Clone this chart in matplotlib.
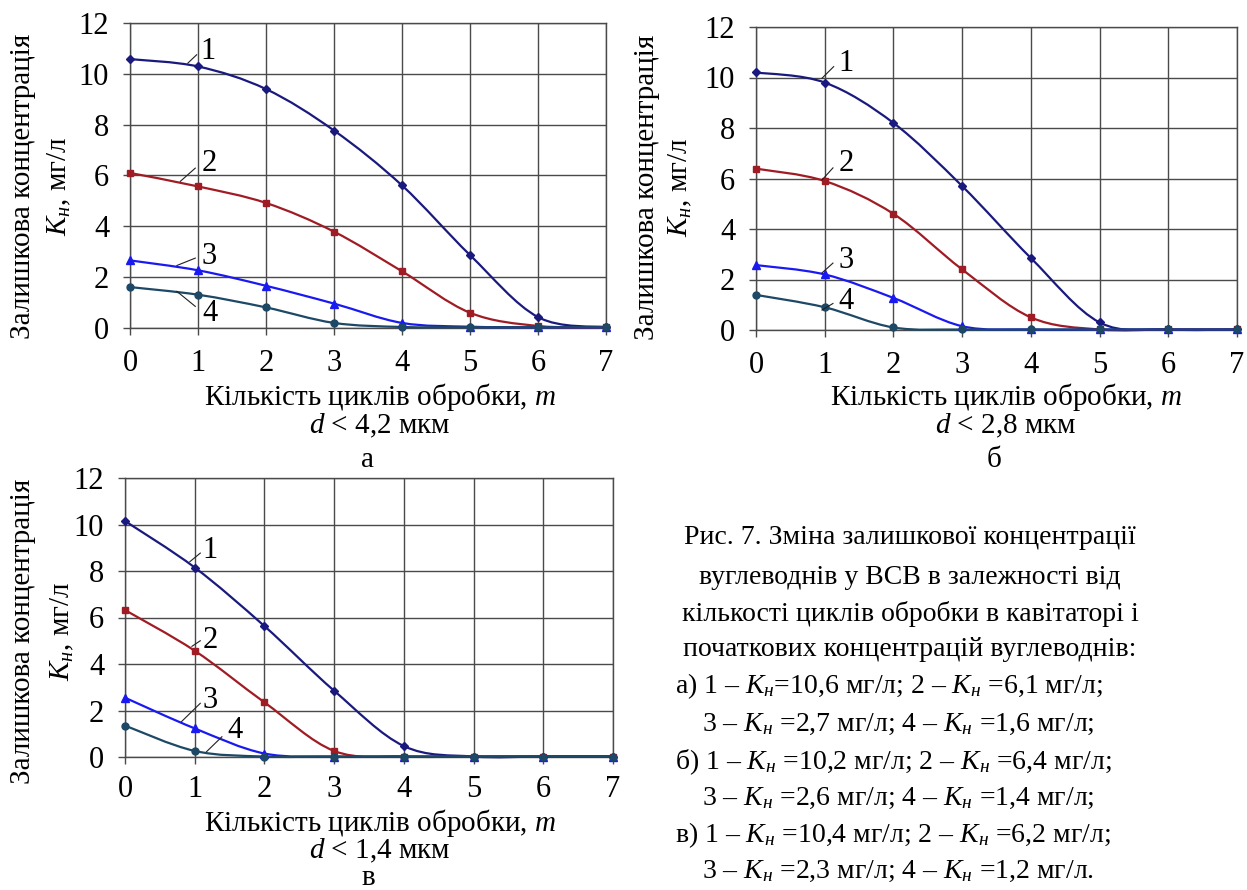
import numpy as np
import matplotlib.pyplot as plt
from matplotlib.path import Path
from matplotlib.patches import PathPatch

plt.rcParams['font.family'] = ['Liberation Serif', 'DejaVu Serif']
plt.rcParams['mathtext.fontset'] = 'custom'
plt.rcParams['mathtext.rm'] = 'Liberation Serif'
plt.rcParams['mathtext.it'] = 'Liberation Serif:italic'

W, H = 1247, 890
FS_TICK = 22
FS = 21
FS_CAP = 20

# кількість циклів обробки
cycles = [0, 1, 2, 3, 4, 5, 6, 7]

# а) d < 4,2 мкм
a_1 = [10.58, 10.29, 9.40, 7.77, 5.61, 2.87, 0.43, 0.03]
a_2 = [6.10, 5.57, 4.92, 3.79, 2.23, 0.60, 0.08, 0.03]
a_3 = [2.66, 2.27, 1.66, 0.96, 0.20, 0.05, 0.03, 0.03]
a_4 = [1.61, 1.31, 0.81, 0.20, 0.04, 0.03, 0.03, 0.03]

# б) d < 2,8 мкм
b_1 = [10.20, 9.80, 8.20, 5.70, 2.85, 0.30, 0.02, 0.02]
b_2 = [6.39, 5.90, 4.60, 2.40, 0.50, 0.02, 0.02, 0.02]
b_3 = [2.57, 2.20, 1.27, 0.15, 0.02, 0.02, 0.02, 0.02]
b_4 = [1.39, 0.90, 0.10, 0.02, 0.02, 0.02, 0.02, 0.02]

# в) d < 1,4 мкм
c_1 = [10.15, 8.15, 5.63, 2.85, 0.47, 0.02, 0.02, 0.02]
c_2 = [6.32, 4.57, 2.35, 0.26, 0.02, 0.02, 0.02, 0.02]
c_3 = [2.55, 1.23, 0.15, 0.02, 0.02, 0.02, 0.02, 0.02]
c_4 = [1.35, 0.26, 0.02, 0.02, 0.02, 0.02, 0.02, 0.02]

colors = ['#1a1a7e', '#a01c24', '#1a1af0', '#1d4866']
markers = [('D', 4.0), ('s', 5.0), ('^', 5.5), ('o', 5.0)]


def px(x, y):
    return x / W, 1 - y / H


def smooth_path(xs, ys):
    # згладжена лінія як в Excel (криві Безьє)
    p = np.column_stack([xs, ys]).astype(float)
    n = len(p)
    verts = [p[0]]
    codes = [Path.MOVETO]
    for i in range(n - 1):
        p0 = p[i - 1] if i > 0 else p[i]
        p3 = p[i + 2] if i + 2 < n else p[i + 1]
        c1 = p[i] + (p[i + 1] - p0) / 6.0
        c2 = p[i + 1] - (p3 - p[i]) / 6.0
        verts += [c1, c2, p[i + 1]]
        codes += [Path.CURVE4] * 3
    return Path(verts, codes)


def draw_panel(box, series, notes, xpad):
    l, r, t, b = box
    ax = plt.gcf().add_axes([l / W, 1 - b / H, (r - l) / W, (b - t) / H])
    ax.set_xlim(0, 7)
    ax.set_ylim(0, 12)
    ax.set_xticks(range(0, 8))
    ax.set_yticks(range(0, 13, 2))
    ax.grid(True, color='#4a4a4a', lw=1.0)
    for s in ax.spines.values():
        s.set_color('#4a4a4a')
        s.set_linewidth(1.0)
    ax.tick_params(length=5, width=1.0, color='#4a4a4a', labelsize=FS_TICK, pad=10)
    ax.tick_params(axis='x', pad=xpad)
    for k, ys in enumerate(series):
        patch = PathPatch(smooth_path(cycles, ys), fill=False,
                          edgecolor=colors[k], lw=1.6, clip_on=False, zorder=3)
        ax.add_patch(patch)
        m, ms = markers[k]
        ax.plot(cycles, ys, ls='none', marker=m, ms=ms, color=colors[k],
                clip_on=False, zorder=4)
    for lab, tx, ty, x0, y0, x1, y1 in notes:
        ax.plot([x0, x1], [y0, y1], color='#202020', lw=0.8, zorder=5)
        ax.text(tx, ty, lab, fontsize=FS_TICK, ha='center', va='center', zorder=5)
    return ax


notes_a = [('1', 1.15, 10.87, 0.85, 10.42, 0.98, 10.75),
           ('2', 1.17, 6.49, 0.74, 5.77, 0.96, 6.29),
           ('3', 1.17, 2.82, 0.69, 2.46, 0.96, 2.75),
           ('4', 1.17, 0.59, 0.69, 1.44, 0.96, 0.85)]
notes_b = [('1', 1.31, 10.56, 0.96, 9.97, 1.13, 10.43),
           ('2', 1.31, 6.60, 0.96, 5.94, 1.12, 6.42),
           ('3', 1.31, 2.77, 0.96, 2.26, 1.12, 2.65),
           ('4', 1.31, 1.12, 0.96, 0.79, 1.12, 1.05)]
notes_c = [('1', 1.22, 8.90, 0.93, 8.40, 1.08, 8.77),
           ('2', 1.22, 5.03, 0.96, 4.76, 1.08, 5.00),
           ('3', 1.22, 2.45, 0.81, 1.52, 1.08, 2.31),
           ('4', 1.58, 1.16, 1.17, 0.23, 1.39, 0.87)]

fig = plt.figure(figsize=(W / 100, H / 100), dpi=100)

draw_panel((130, 606, 23, 328), [a_1, a_2, a_3, a_4], notes_a, 10)
draw_panel((756, 1237, 27, 330), [b_1, b_2, b_3, b_4], notes_b, 10)
draw_panel((125, 613, 478, 757), [c_1, c_2, c_3, c_4], notes_c, 8)

xlab = 'Кількість циклів обробки, $\\mathit{m}$'
ylab1 = 'Залишкова концентрація'
ylab2 = '$\\mathit{K}_{\\mathit{н}}$, мг/л'

# підписи панелей
for cx, y_lab, y_d, d_txt, letter, y_base in [(380, 397, 426, '4,2', 'а', 467),
                                              (1006, 397, 426, '2,8', 'б', 467),
                                              (380, 823, 851, '1,4', 'в', 885)]:
    fig.text(*px(cx, y_lab), xlab, fontsize=FS, ha='center', va='center')
    fig.text(*px(cx, y_d), '$\\mathit{d}$ < ' + d_txt + ' мкм',
             fontsize=FS, ha='center', va='center')
    fig.text(*px(cx - 12, y_base), letter, fontsize=FS, ha='center', va='baseline')

for x1, x2, yc in [(23, 59, 186), (647, 680, 187), (23, 62, 631)]:
    fig.text(*px(x1, yc), ylab1, fontsize=FS, rotation=90, ha='center', va='center')
    fig.text(*px(x2, yc), ylab2, fontsize=FS, rotation=90, ha='center', va='center')

# підпис рисунка
K = '$\\mathit{K}_{\\mathit{н}}$'
caption_c = ['Рис. 7. Зміна залишкової концентрації',
             'вуглеводнів у ВСВ в залежності від',
             'кількості циклів обробки в кавітаторі і',
             'початкових концентрацій вуглеводнів:']
caption_l = ['а) 1 – ' + K + '=10,6 мг/л; 2 – ' + K + ' =6,1 мг/л;',
             '3 – ' + K + ' =2,7 мг/л; 4 – ' + K + ' =1,6 мг/л;',
             'б) 1 – ' + K + ' =10,2 мг/л; 2 – ' + K + ' =6,4 мг/л;',
             '3 – ' + K + ' =2,6 мг/л; 4 – ' + K + ' =1,4 мг/л;',
             'в) 1 – ' + K + ' =10,4 мг/л; 2 – ' + K + ' =6,2 мг/л;',
             '3 – ' + K + ' =2,3 мг/л; 4 – ' + K + ' =1,2 мг/л.']
cap_y = [537, 578, 614, 650, 686, 724, 762, 798, 835, 871]
for i, line in enumerate(caption_c):
    fig.text(*px(910, cap_y[i]), line, fontsize=FS_CAP, ha='center', va='center')
for i, line in enumerate(caption_l):
    x0 = 675 if i % 2 == 0 else 702
    fig.text(*px(x0, cap_y[i + 4]), line, fontsize=FS_CAP, ha='left', va='center')

fig.savefig('out.png', dpi=100)
